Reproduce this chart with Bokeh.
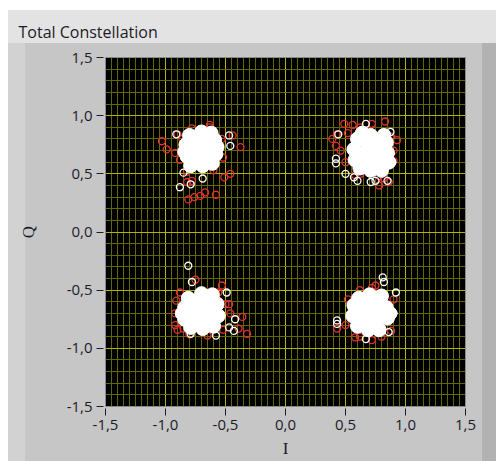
from bokeh.plotting import figure
from bokeh.models import FixedTicker, Range1d
from bokeh.embed import file_html
from bokeh.resources import INLINE

# Axis ticks (LabVIEW style, comma decimal separator)
tick_values = [-1.5, -1.0, -0.5, 0.0, 0.5, 1.0, 1.5]
tick_labels = ["-1,5", "-1,0", "-0,5", "0,0", "0,5", "1,0", "1,5"]
x_minor = [round(-1.5 + 0.05 * i, 3) for i in range(61)]
y_minor = [round(-1.5 + 0.1 * i, 3) for i in range(31)]

# Dense centre of each received symbol cloud (drawn as solid white)
core_x = [-0.70, -0.63, -0.77, -0.66, -0.74, -0.66, -0.75, -0.58, -0.83, -0.59,
          -0.82, -0.70, -0.69, -0.79, -0.61, -0.80, -0.62, -0.84, -0.57,
          0.71, 0.78, 0.64, 0.68, 0.76, 0.68, 0.77, 0.85, 0.57, 0.84,
          0.58, 0.71, 0.71, 0.62, 0.80, 0.60, 0.64, 0.82, 0.86,
          -0.70, -0.63, -0.77, -0.66, -0.74, -0.66, -0.75, -0.57, -0.84, -0.56,
          -0.84, -0.70, -0.69, -0.79, -0.60, -0.81, -0.61, -0.86,
          0.70, 0.77, 0.63, 0.66, 0.74, 0.66, 0.75, 0.84, 0.56, 0.85,
          0.57, 0.70, 0.69, 0.78, 0.60, 0.80, 0.61, 0.87]
core_y = [0.71, 0.73, 0.70, 0.80, 0.80, 0.63, 0.62, 0.67, 0.75, 0.79,
          0.65, 0.86, 0.57, 0.57, 0.59, 0.83, 0.85, 0.69, 0.73,
          0.68, 0.69, 0.67, 0.76, 0.77, 0.60, 0.60, 0.68, 0.71, 0.77,
          0.62, 0.83, 0.53, 0.55, 0.53, 0.80, 0.85, 0.83, 0.60,
          -0.68, -0.67, -0.69, -0.59, -0.60, -0.76, -0.77, -0.62, -0.65, -0.72,
          -0.75, -0.53, -0.83, -0.82, -0.81, -0.57, -0.54, -0.70,
          -0.69, -0.68, -0.70, -0.61, -0.60, -0.78, -0.78, -0.65, -0.72, -0.74,
          -0.63, -0.54, -0.84, -0.84, -0.81, -0.55, -0.57, -0.70]

# Red reference symbols spread around each cloud
red_x = [-1.03, -0.99, -0.92, -0.90, -0.63, -0.44, -0.375, -0.46, -0.51, -0.58,
         -0.67, -0.71, -0.76, -0.81, -0.82, -0.78, -0.86, -0.88, -0.82, -0.60,
         -0.52, -0.53, -0.63, -0.78,
         0.49, 0.56, 0.72, 0.83, 0.39, 0.43, 0.42, 0.46, 0.93, 0.90,
         0.86, 0.78, 0.82, 0.625, 0.52, 0.50, 0.58, 0.78, 0.90, 0.88, 0.62,
         -0.75, -0.53, -0.91, -0.92, -0.92, -0.46, -0.36, -0.39, -0.32, -0.47,
         -0.85, -0.88, -0.56, -0.50, -0.52, -0.65, -0.80, -0.90,
         0.75, 0.43, 0.58, 0.72, 0.80, 0.52, 0.50, 0.62, 0.88, 0.90, 0.72, 0.62]
red_y = [0.78, 0.71, 0.68, 0.84, 0.92, 0.83, 0.73, 0.50, 0.47, 0.32,
         0.34, 0.31, 0.30, 0.28, 0.43, 0.44, 0.80, 0.62, 0.52, 0.53,
         0.64, 0.80, 0.90, 0.89,
         0.93, 0.92, 0.93, 0.95, 0.80, 0.84, 0.74, 0.70, 0.79, 0.61,
         0.43, 0.40, 0.46, 0.50, 0.85, 0.60, 0.49, 0.48, 0.70, 0.82, 0.90,
         -0.41, -0.46, -0.59, -0.70, -0.80, -0.70, -0.73, -0.83, -0.875, -0.62,
         -0.83, -0.52, -0.52, -0.62, -0.84, -0.89, -0.88, -0.84,
         -0.46, -0.83, -0.905, -0.93, -0.90, -0.58, -0.80, -0.90, -0.85, -0.58, -0.48, -0.50]

# Outlying received symbols (white open circles)
white_x = [-0.88, -0.69, -0.79, -0.85, -0.47, -0.46, -0.91,
           0.42, 0.42, 0.50, 0.57, 0.60, 0.71, 0.75, 0.85, 0.67, 0.44, 0.875, 0.89,
           -0.81, -0.78, -0.49, -0.42, -0.43, -0.47, -0.79, -0.58,
           0.81, 0.82, 0.92, 0.43, 0.43, 0.67, 0.86, 0.90]
white_y = [0.385, 0.46, 0.41, 0.51, 0.83, 0.74, 0.84,
           0.63, 0.59, 0.50, 0.47, 0.44, 0.43, 0.44, 0.44, 0.93, 0.84, 0.86, 0.60,
           -0.29, -0.43, -0.52, -0.75, -0.85, -0.82, -0.875, -0.89,
           -0.39, -0.43, -0.52, -0.76, -0.79, -0.92, -0.86, -0.70]

TEXT = "#1c1c28"


def flat(color, x, y, w, h):
    """One solid CSS background layer covering a w x h pixel box at (x, y)."""
    return f"linear-gradient({color}, {color}) {x}px {y}px / {w}px {h}px no-repeat"


# Panel look of the graph control: caption bar, bevels and grey face
panel_css = ", ".join([
    flat("#e3e3e3", 8, 10, 488, 33),
    flat("#d2d2d2", 8, 43, 17, 418),
    flat("#b2b2b2", 482, 43, 14, 418),
    flat("#c6c6c6", 8, 43, 488, 418),
    "#ffffff",
])

p = figure(width=496, height=461,
           x_range=Range1d(-1.5, 1.5), y_range=Range1d(-1.5, 1.5),
           output_backend="svg", toolbar_location=None,
           min_border_left=105, min_border_right=31,
           min_border_top=57, min_border_bottom=55,
           background_fill_color="black", border_fill_alpha=0,
           outline_line_color="#8c8c8c",
           title="Total Constellation", title_location="above")
p.styles = {"background": panel_css}

p.title.align = "left"
p.title.offset = -87
p.title.standoff = 30
p.title.text_font = "Open Sans"
p.title.text_font_size = "16px"
p.title.text_font_style = "normal"
p.title.text_color = TEXT

overrides = dict(zip(tick_values, tick_labels))
for ax, minor in ((p.xaxis[0], x_minor), (p.yaxis[0], y_minor)):
    ax.ticker = FixedTicker(ticks=tick_values, minor_ticks=minor)
    ax.major_label_overrides = overrides
    ax.axis_line_color = None
    ax.minor_tick_line_color = None
    ax.major_tick_line_color = TEXT
    ax.major_tick_in = -2
    ax.major_tick_out = 9
    ax.major_label_text_font = "Open Sans"
    ax.major_label_text_font_size = "15px"
    ax.major_label_text_color = TEXT
    ax.major_label_standoff = 4
    ax.axis_label_text_font = "Liberation Serif"
    ax.axis_label_text_font_size = "17px"
    ax.axis_label_text_font_style = "normal"
    ax.axis_label_text_color = TEXT

p.xaxis.axis_label = "I"
p.yaxis.axis_label = "Q"
p.xaxis.axis_label_standoff = 6
p.yaxis.axis_label_standoff = 26

p.grid.grid_line_color = "#b4b400"
p.grid.grid_line_alpha = 1
p.grid.minor_grid_line_color = "#666600"
p.grid.minor_grid_line_alpha = 1

p.scatter(red_x, red_y, marker="circle", size=7, fill_color=None,
          line_color="#e53030", line_width=1.3)
p.scatter(core_x, core_y, marker="circle", size=14, fill_color="white",
          line_color="white")
p.scatter(white_x, white_y, marker="circle", size=7, fill_color=None,
          line_color="white", line_width=1.3)

open("out.html", "w").write(file_html(p, INLINE))
